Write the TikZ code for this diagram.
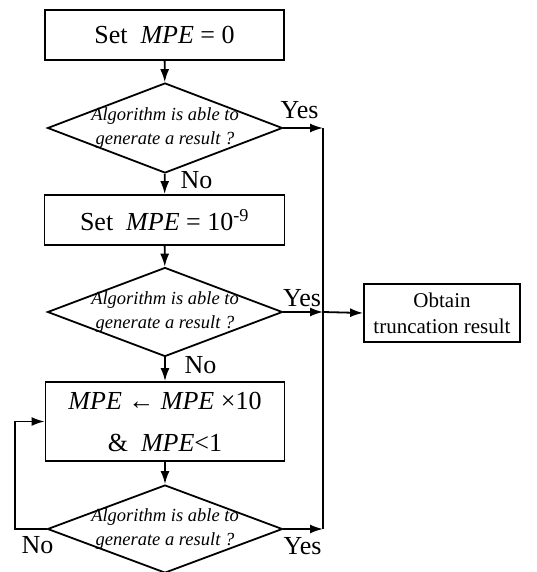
\documentclass[tikz,border=0pt]{standalone}
\usepackage{fontspec}
\setmainfont{Liberation Serif}
\usetikzlibrary{arrows.meta, shapes.geometric}
\tikzset{>={Latex[length=13pt,width=9pt]}}
\tikzset{
  procbox/.style={draw, line width=1.8pt, inner sep=0pt, align=center, font=\fontsize{26}{42}\selectfont},
  decision/.style={draw, diamond, line width=1.8pt, inner sep=0pt, aspect=2.6},
  asktext/.style={align=center, font=\fontsize{18.5}{24.5}\selectfont\itshape},
  answer/.style={anchor=base, inner sep=0pt, font=\fontsize{26}{30}\selectfont},
  flow/.style={line width=1.8pt}
}

\begin{document}
\begin{tikzpicture}[x=1pt, y=-1pt]
\useasboundingbox (0,0) rectangle (536,572);

\node[procbox, minimum width=239pt, minimum height=50pt] (set0) at (164.5, 35) {Set\ \ \textit{MPE} = 0};
\node[decision, minimum width=235pt, minimum height=90pt] (ask1) at (165, 128) {};
\node[asktext] (ask1txt) at (ask1) {Algorithm is able to\\generate a result ?};

\node[procbox, minimum width=240pt, minimum height=50pt] (setmin) at (164.5, 220) {Set\ \ \textit{MPE} = 10\textsuperscript{-9}};
\node[decision, minimum width=235pt, minimum height=89pt] (ask2) at (165, 312) {};
\node[asktext] (ask2txt) at (ask2) {Algorithm is able to\\generate a result ?};

\node[procbox, minimum width=239pt, minimum height=79pt] (grow) at (165, 421.5) {\textit{MPE} ← \textit{MPE} ×10\\\&\ \ \textit{MPE}<1};
\node[decision, minimum width=235pt, minimum height=88pt] (ask3) at (165, 529) {};
\node[asktext] (ask3txt) at (ask3) {Algorithm is able to\\generate a result ?};

\node[procbox, minimum width=156pt, minimum height=58pt, font=\fontsize{21}{26}\selectfont] (result) at (442, 313) {Obtain\\truncation result};

\coordinate (join1) at (323, 128);
\coordinate (join2) at (323, 312);
\coordinate (join3) at (323, 529);
\coordinate (back) at (15, 529);

% main column
\draw[flow, ->] (set0) -- (ask1);
\draw[flow, ->] (ask1) -- (setmin);
\draw[flow, ->] (setmin) -- (ask2);
\draw[flow, ->] (ask2) -- (grow);
\draw[flow, ->] (grow) -- (ask3);

% yes branches
\draw[flow, ->] (ask1.east) -- (join1);
\draw[flow, ->] (ask2.east) -- (join2);
\draw[flow, ->] (ask3.east) -- (join3);
\draw[flow] (join1) -- (join3);
\draw[flow, ->] (join2) -- (result.west);

% loop back
\draw[flow, ->] (ask3.west) -- (back) |- (grow.west);

\node[answer] (yes1) at (299.5, 119) {Yes};
\node[answer] (no1) at (196.5, 188) {No};
\node[answer] (yes2) at (302, 306) {Yes};
\node[answer] (no2) at (200.5, 373) {No};
\node[answer] (no3) at (37.5, 553) {No};
\node[answer] (yes3) at (302.5, 554) {Yes};
\end{tikzpicture}
\end{document}
